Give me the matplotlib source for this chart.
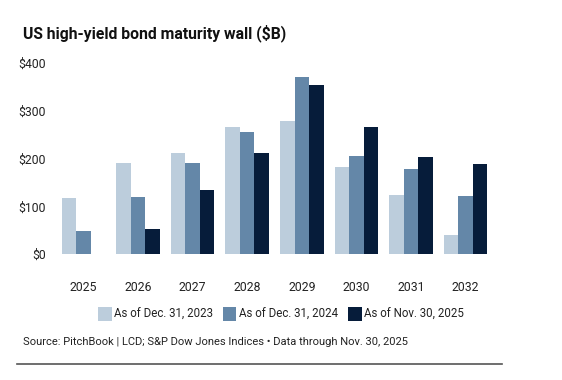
import matplotlib
matplotlib.use("Agg")
import matplotlib.pyplot as plt
import numpy as np
from matplotlib.patches import Patch

plt.rcParams['font.family'] = ['Roboto', 'DejaVu Sans']

years = ["2025", "2026", "2027", "2028", "2029", "2030", "2031", "2032"]
series_names = ["As of Dec. 31, 2023", "As of Dec. 31, 2024", "As of Nov. 30, 2025"]
v2023 = [117, 192, 213, 267, 280, 183, 124, 40]
v2024 = [48, 119, 191, 257, 372, 205, 179, 122]
v2025 = [0, 53, 135, 213, 355, 266, 203, 189]
colors = ["#bccddc", "#6487a8", "#061c3a"]
yticks = [0, 100, 200, 300, 400]
ytick_labels = ["$0", "$100", "$200", "$300", "$400"]

fig = plt.figure(figsize=(5.62, 3.8), dpi=100)
ax = fig.add_axes([56/562, 1-254.3/380, (493-56)/562, 191/380])

x = np.arange(len(years))
w = 0.265
for i, (vals, c) in enumerate(zip([v2023, v2024, v2025], colors)):
    ax.bar(x + (i-1)*w, vals, width=w, color=c, linewidth=0)

ax.set_xlim(-0.5, len(years)-0.5)
ax.set_ylim(0, 400)
ax.set_yticks(yticks)
ax.set_yticklabels(ytick_labels)
ax.set_xticks(x)
ax.set_xticklabels(years)
for s in ax.spines.values():
    s.set_visible(False)
ax.tick_params(axis='both', length=0, labelsize=8.8, colors='#222222')
ax.tick_params(axis='y', pad=7)
ax.tick_params(axis='x', pad=19)

fig.text(23/562, 1-33/380, "US high-yield bond maturity wall ($B)", fontsize=11.3,
         fontweight='bold', color='#111111', va='center', ha='left')

handles = [Patch(facecolor=c, edgecolor='none') for c in colors]
fig.legend(handles, series_names, loc='center', bbox_to_anchor=(0.5, 1-314/380),
           ncol=3, frameon=False, fontsize=8.3, handlelength=1.15, handleheight=1.5,
           handletextpad=0.2, columnspacing=0.9, labelcolor='#222222')

fig.text(23/562, 1-342/380, "Source: PitchBook | LCD; S&P Dow Jones Indices \u2022 Data through Nov. 30, 2025",
         fontsize=8.0, color='#222222', va='center', ha='left')

fig.add_artist(plt.Line2D([17/562, 502/562], [1-364/380, 1-364/380],
                          transform=fig.transFigure, color='#555555', linewidth=1.2))

fig.savefig("out.png", dpi=100, facecolor='white')
